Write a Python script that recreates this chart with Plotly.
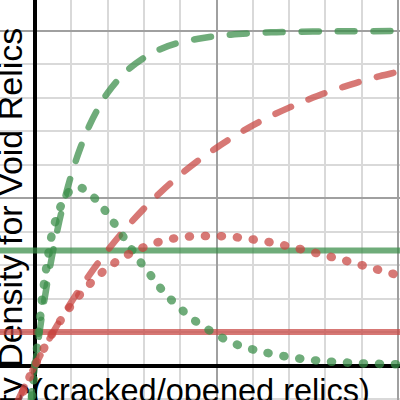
import plotly.graph_objects as go

# ---- data ----
# x: number of relics, y: probability
relics_red = [-1, -0.5, 0, 1, 2, 3, 4, 5, 6, 7, 8, 9, 10, 11, 12, 13, 14, 15, 16, 17, 18, 19, 20, 21]
red_cumulative = [-0.111, -0.054, 0.0, 0.100, 0.190, 0.271, 0.344, 0.410, 0.469, 0.522, 0.570, 0.613,
                  0.651, 0.686, 0.718, 0.746, 0.771, 0.794, 0.815, 0.833, 0.850, 0.865, 0.878, 0.891]
red_density = [-0.123, -0.059, 0.0, 0.100, 0.180, 0.243, 0.292, 0.328, 0.354, 0.372, 0.383, 0.387,
               0.387, 0.384, 0.377, 0.368, 0.356, 0.343, 0.329, 0.315, 0.300, 0.285, 0.270, 0.255]

relics_green_cum = [-0.5, -0.25, 0, 0.25, 0.5, 0.75, 1, 1.5, 2, 2.5, 3, 3.5, 4, 5, 6, 7, 8, 9, 10,
                    11, 12, 13, 14, 16, 18, 21]
green_cumulative = [-0.235, -0.111, 0.0, 0.100, 0.190, 0.271, 0.344, 0.469, 0.570, 0.651, 0.718,
                    0.771, 0.815, 0.878, 0.920, 0.948, 0.966, 0.977, 0.985, 0.990, 0.994, 0.996,
                    0.997, 0.999, 0.9995, 1.0]

relics_green_den = [-0.25, 0, 0.1, 0.2, 0.3, 0.4, 0.55, 0.7, 0.8, 1.0, 1.3, 1.6, 2.0, 2.3, 2.6, 3.0,
                    3.6, 4.2, 4.7, 5.2, 5.7, 6.25, 6.75, 7.35, 8.0, 8.6, 9.4, 10.2, 10.9, 11.8, 12.7,
                    13.5, 14.4, 15.3, 16.2, 17.1, 18.0, 18.9, 19.8, 21]
green_density = [-0.140, 0.0, 0.045, 0.100, 0.155, 0.205, 0.265, 0.320, 0.355, 0.410, 0.460, 0.498,
                 0.527, 0.533, 0.530, 0.516, 0.481, 0.438, 0.398, 0.358, 0.317, 0.279, 0.242, 0.205,
                 0.171, 0.142, 0.112, 0.086, 0.067, 0.051, 0.039, 0.030, 0.022, 0.016, 0.012, 0.009,
                 0.0065, 0.005, 0.004, 0.003]

line_span = [-3, 22]
green_rate = 0.344
red_rate = 0.100

x_title = "(cracked/opened relics)"
y_title = "Probability Density for Void Relics"

GREEN = "rgba(56,140,70,0.72)"
RED = "rgba(199,68,64,0.72)"
DASHED = "17px,19px"
DOTTED = "1px,15px"

fig = go.Figure()
fig.add_trace(go.Scatter(x=line_span, y=[green_rate, green_rate], mode="lines",
                         line=dict(color=GREEN, width=6)))
fig.add_trace(go.Scatter(x=line_span, y=[red_rate, red_rate], mode="lines",
                         line=dict(color=RED, width=6)))
fig.add_trace(go.Scatter(x=relics_green_cum, y=green_cumulative, mode="lines",
                         line=dict(color=GREEN, width=6.5, dash=DASHED, shape="spline", smoothing=1)))
fig.add_trace(go.Scatter(x=relics_red, y=red_cumulative, mode="lines",
                         line=dict(color=RED, width=6.5, dash=DASHED, shape="spline", smoothing=1)))
fig.add_trace(go.Scatter(x=relics_green_den, y=green_density, mode="lines",
                         line=dict(color=GREEN, width=8.5, dash=DOTTED, shape="spline", smoothing=0.8)))
fig.add_trace(go.Scatter(x=relics_red, y=red_density, mode="lines",
                         line=dict(color=RED, width=8.5, dash=DOTTED, shape="spline", smoothing=1)))

yfont = dict(family="Liberation Sans, Arial, sans-serif", size=34, color="black")
xfont = dict(family="Liberation Sans, Arial, sans-serif", size=32.5, color="black")

fig.update_layout(
    width=400, height=400, margin=dict(l=0, r=0, t=0, b=0),
    paper_bgcolor="white", plot_bgcolor="white", showlegend=False,
    xaxis=dict(range=[-1.93, 20.11], tick0=0, dtick=10, showticklabels=False, ticks="",
               showgrid=True, gridcolor="#a0a0a0", gridwidth=1.5,
               zeroline=True, zerolinecolor="black", zerolinewidth=3.5,
               minor=dict(tick0=0, dtick=2, showgrid=True, gridcolor="#d9d9d9", gridwidth=1.5)),
    yaxis=dict(range=[-0.1031, 1.0927], tick0=0, dtick=0.5, showticklabels=False, ticks="",
               showgrid=True, gridcolor="#a0a0a0", gridwidth=1.5,
               zeroline=True, zerolinecolor="black", zerolinewidth=3.5,
               minor=dict(tick0=0, dtick=0.1, showgrid=True, gridcolor="#d9d9d9", gridwidth=1.5)),
    shapes=[
        dict(type="rect", xref="x", yref="y", x0=-0.33, x1=20, y0=-0.085, y1=-0.045,
             line=dict(width=0), fillcolor="rgba(0,0,0,0)", layer="between",
             label=dict(text=x_title, font=xfont, textposition="middle left", padding=0)),
        dict(type="rect", xref="x", yref="y", x0=-2.07, x1=-1.01, y0=0.15, y1=0.35,
             line=dict(width=0), fillcolor="rgba(0,0,0,0)", layer="between",
             label=dict(text=y_title, font=yfont, textposition="middle center",
                        textangle=-90, padding=0)),
    ],
)

post = """
document.body.style.margin = '0';
document.body.style.padding = '0';
var gd = document.getElementById('{plot_id}');
gd.querySelectorAll('.scatterlayer .js-line').forEach(function(p){
  p.style.strokeLinecap = 'round';
  p.style.strokeLinejoin = 'round';
});
"""
fig.write_html("out.html", post_script=post, config={"displayModeBar": False})
